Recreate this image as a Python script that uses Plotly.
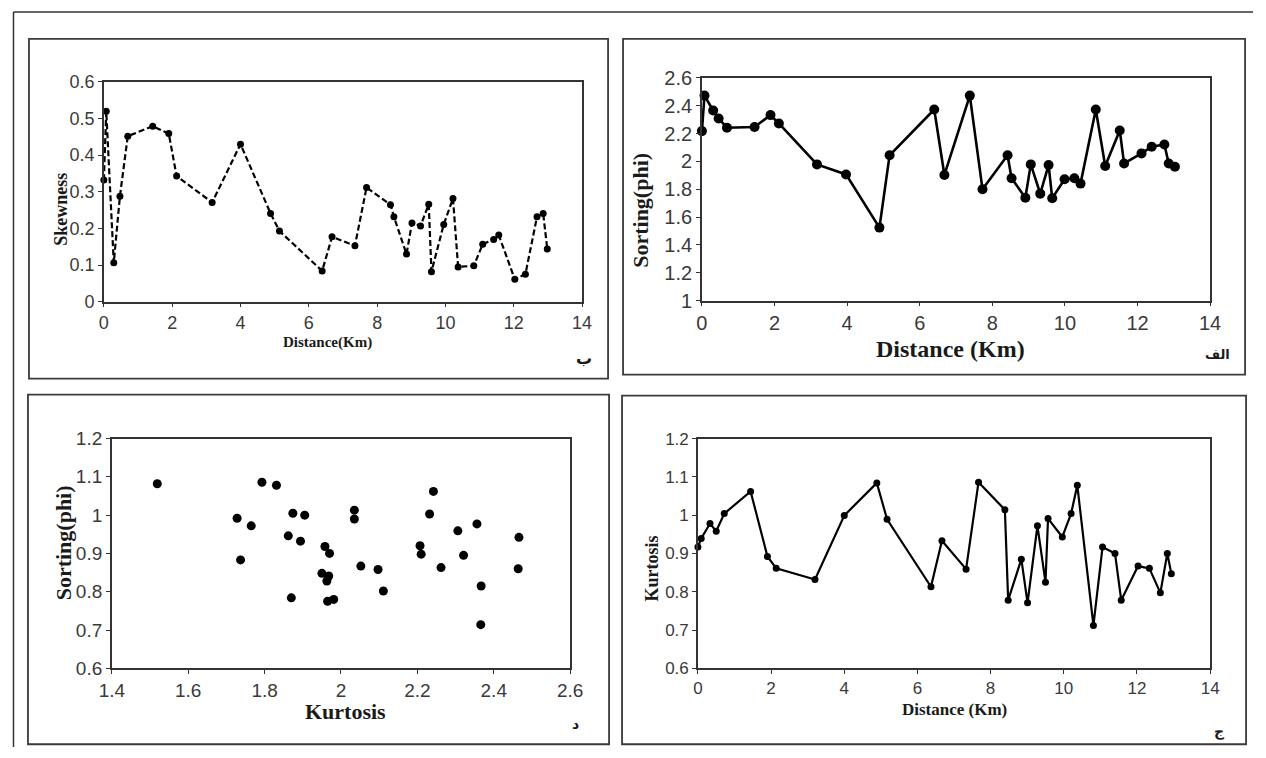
import plotly.graph_objects as go

W, H = 1266, 758

# ---------------- data ----------------
# Panel "ب": Skewness vs distance
dist_skew = [0.0, 0.07, 0.29, 0.47, 0.70, 1.43, 1.90, 2.13, 3.17, 4.00, 4.88, 5.14,
             6.39, 6.68, 7.35, 7.69, 8.39, 8.49, 8.86, 9.02, 9.27, 9.51, 9.59, 9.95,
             10.22, 10.37, 10.83, 11.09, 11.41, 11.56, 12.03, 12.34, 12.68, 12.86, 12.98]
skewness = [0.332, 0.52, 0.106, 0.288, 0.452, 0.479, 0.459, 0.343, 0.271, 0.430, 0.241, 0.193,
            0.084, 0.177, 0.153, 0.312, 0.265, 0.232, 0.130, 0.215, 0.207, 0.266, 0.082, 0.211,
            0.282, 0.095, 0.098, 0.157, 0.170, 0.182, 0.061, 0.075, 0.232, 0.241, 0.144]

# Panel "الف": Sorting vs distance
dist_sort = [0.0, 0.07, 0.31, 0.46, 0.69, 1.45, 1.89, 2.12, 3.17, 3.97, 4.89, 5.17,
             6.40, 6.68, 7.38, 7.73, 8.42, 8.53, 8.91, 9.06, 9.32, 9.55, 9.65, 9.99,
             10.26, 10.43, 10.85, 11.11, 11.51, 11.63, 12.11, 12.39, 12.74, 12.86, 13.03]
sorting = [2.218, 2.473, 2.366, 2.309, 2.242, 2.247, 2.333, 2.273, 1.979, 1.907, 1.525, 2.044,
           2.373, 1.903, 2.473, 1.800, 2.044, 1.879, 1.740, 1.979, 1.769, 1.974, 1.736, 1.872,
           1.879, 1.841, 2.373, 1.967, 2.223, 1.986, 2.058, 2.106, 2.122, 1.986, 1.962]

# Panel "ج": Kurtosis vs distance
dist_kurt = [0.0, 0.09, 0.33, 0.50, 0.72, 1.44, 1.90, 2.14, 3.20, 4.00, 4.89, 5.17,
             6.37, 6.67, 7.33, 7.67, 8.39, 8.48, 8.84, 9.01, 9.28, 9.50, 9.57, 9.96,
             10.20, 10.37, 10.81, 11.06, 11.40, 11.57, 12.03, 12.34, 12.64, 12.83, 12.94]
kurtosis = [0.917, 0.939, 0.978, 0.958, 1.004, 1.062, 0.892, 0.861, 0.832, 0.999, 1.084, 0.989,
            0.813, 0.933, 0.859, 1.086, 1.014, 0.778, 0.885, 0.771, 0.972, 0.825, 0.991, 0.943,
            1.004, 1.078, 0.712, 0.917, 0.900, 0.778, 0.867, 0.861, 0.797, 0.900, 0.847]

# Panel "د": scatter (x labelled Kurtosis, y labelled Sorting(phi))
scatter_x = [1.519, 1.728, 1.737, 1.765, 1.793, 1.831, 1.862, 1.870, 1.874, 1.894, 1.905,
             1.950, 1.958, 1.963, 1.968, 1.970, 1.965, 1.981, 2.035, 2.035, 2.052, 2.097,
             2.111, 2.207, 2.210, 2.232, 2.242, 2.262, 2.306, 2.321, 2.356, 2.367, 2.366,
             2.466, 2.464]
scatter_y = [1.082, 0.992, 0.883, 0.972, 1.086, 1.078, 0.946, 0.784, 1.005, 0.932, 1.000,
             0.848, 0.918, 0.828, 0.841, 0.900, 0.775, 0.780, 1.013, 0.990, 0.867, 0.858,
             0.802, 0.920, 0.898, 1.003, 1.062, 0.863, 0.959, 0.895, 0.977, 0.815, 0.714,
             0.942, 0.860]

# tick labels
dist_ticks = [0, 2, 4, 6, 8, 10, 12, 14]
dist_tick_text = ["0", "2", "4", "6", "8", "10", "12", "14"]
skew_ticks = [0, 0.1, 0.2, 0.3, 0.4, 0.5, 0.6]
skew_tick_text = ["0", "0.1", "0.2", "0.3", "0.4", "0.5", "0.6"]
sort_ticks = [1, 1.2, 1.4, 1.6, 1.8, 2, 2.2, 2.4, 2.6]
sort_tick_text = ["1", "1.2", "1.4", "1.6", "1.8", "2", "2.2", "2.4", "2.6"]
kurt_ticks = [0.6, 0.7, 0.8, 0.9, 1.0, 1.1, 1.2]
kurt_tick_text = ["0.6", "0.7", "0.8", "0.9", "1", "1.1", "1.2"]
scat_x_ticks = [1.4, 1.6, 1.8, 2.0, 2.2, 2.4, 2.6]
scat_x_tick_text = ["1.4", "1.6", "1.8", "2", "2.2", "2.4", "2.6"]

# ---------------- layout helpers (pixel positions -> paper) ----------------
# the photographed page shows a small border; positions below are given in
# the reference's pixel frame and mapped into the figure's own frame.
SX, BX = 0.981, 12.0
SY, BY = 0.972, 10.0

def fx(r):
    return min(W, max(0.5, (r - BX) / SX))

def fy(r):
    return min(H, max(0.5, (r - BY) / SY))

def xd(a, b):
    return [fx(a) / W, fx(b) / W]

def yd(top, bottom):
    return [1 - fy(bottom) / H, 1 - fy(top) / H]

def px(x):
    return fx(x) / W

def py(y):
    return 1 - fy(y) / H

AX = "#333333"
TICKC = "#3a3a3a"
SANS = "Liberation Sans, Arial, sans-serif"
SERIF = "Liberation Serif, Times New Roman, serif"

def axis_style(size):
    return dict(showline=True, linecolor=AX, linewidth=1.5, mirror=True,
                ticks="outside", ticklen=4, tickcolor=AX, tickwidth=1.2,
                showgrid=False, zeroline=False,
                tickfont=dict(family=SANS, size=size, color=TICKC))

fig = go.Figure()

fig.add_trace(go.Scatter(x=dist_skew, y=skewness, mode="lines+markers",
                         line=dict(color="black", width=2.2, dash="6px,3px"),
                         marker=dict(color="black", size=7),
                         xaxis="x", yaxis="y", cliponaxis=False, showlegend=False))
fig.add_trace(go.Scatter(x=dist_sort, y=sorting, mode="lines+markers",
                         line=dict(color="black", width=2.6),
                         marker=dict(color="black", size=10),
                         xaxis="x2", yaxis="y2", cliponaxis=False, showlegend=False))
fig.add_trace(go.Scatter(x=scatter_x, y=scatter_y, mode="markers",
                         marker=dict(color="black", size=9),
                         xaxis="x3", yaxis="y3", cliponaxis=False, showlegend=False))
fig.add_trace(go.Scatter(x=dist_kurt, y=kurtosis, mode="lines+markers",
                         line=dict(color="black", width=2.2),
                         marker=dict(color="black", size=7),
                         xaxis="x4", yaxis="y4", cliponaxis=False, showlegend=False))

fig.update_layout(
    width=W, height=H, margin=dict(l=0, r=0, t=0, b=0),
    paper_bgcolor="white", plot_bgcolor="white",
    xaxis=dict(domain=xd(103, 582), range=[0, 14], anchor="y",
               tickvals=dist_ticks, ticktext=dist_tick_text, **axis_style(18)),
    yaxis=dict(domain=yd(81, 301), range=[0, 0.6], anchor="x",
               tickvals=skew_ticks, ticktext=skew_tick_text, **axis_style(18)),
    xaxis2=dict(domain=xd(702, 1211), range=[0, 14], anchor="y2",
                tickvals=dist_ticks, ticktext=dist_tick_text, **axis_style(20)),
    yaxis2=dict(domain=yd(77, 300), range=[1, 2.6], anchor="x2",
                tickvals=sort_ticks, ticktext=sort_tick_text, **axis_style(20)),
    xaxis3=dict(domain=xd(111, 570), range=[1.4, 2.6], anchor="y3",
                tickvals=scat_x_ticks, ticktext=scat_x_tick_text, **axis_style(19)),
    yaxis3=dict(domain=yd(438, 668), range=[0.6, 1.2], anchor="x3",
                tickvals=kurt_ticks, ticktext=kurt_tick_text, **axis_style(19)),
    xaxis4=dict(domain=xd(698, 1211), range=[0, 14], anchor="y4",
                tickvals=dist_ticks, ticktext=dist_tick_text, **axis_style(17)),
    yaxis4=dict(domain=yd(438, 668), range=[0.6, 1.2], anchor="x4",
                tickvals=kurt_ticks, ticktext=kurt_tick_text, **axis_style(17)),
)

# frames
shapes = []
for (x0, y0, x1, y1) in [(28, 38, 608, 378), (623, 38, 1246, 374),
                         (27, 394, 609, 744), (622, 395, 1247, 744)]:
    shapes.append(dict(type="rect", xref="paper", yref="paper",
                       x0=px(x0), x1=px(x1), y0=py(y1), y1=py(y0),
                       line=dict(color="#3a3a3a", width=1.8), fillcolor="rgba(0,0,0,0)",
                       layer="below"))
shapes.append(dict(type="line", xref="paper", yref="paper",
                   x0=px(7), x1=1, y0=py(11), y1=py(11),
                   line=dict(color="#333333", width=1.5)))
shapes.append(dict(type="line", xref="paper", yref="paper",
                   x0=px(7), x1=px(7), y0=py(11), y1=0,
                   line=dict(color="#333333", width=1.5)))
fig.update_layout(shapes=shapes)

# labels
def label(text, x, y, size, angle=0, family=SERIF):
    fig.add_annotation(text=text, x=px(x), y=py(y), xref="paper", yref="paper",
                       showarrow=False, textangle=angle, xanchor="center", yanchor="middle",
                       font=dict(family=family, size=size, color="#1a1a1a"))

label("<b>Skewness</b>", 60, 208, 18, -90)
label("<b>Distance(Km)</b>", 327, 342, 15)
label("<b>ب</b>", 584, 358, 16, family="DejaVu Sans")

label("<b>Sorting(phi)</b>", 641, 210, 22, -90)
label("<b>Distance (Km)</b>", 951, 348, 24)
label("<b>الف</b>", 1218, 354, 13, family="DejaVu Sans")

label("<b>Sorting(phi)</b>", 63, 542, 22, -90)
label("<b>Kurtosis</b>", 345, 711, 22)
label("<b>د</b>", 575, 724, 14, family="DejaVu Sans")

label("<b>Kurtosis</b>", 652, 568, 18, -90)
label("<b>Distance (Km)</b>", 955, 709, 17)
label("<b>ج</b>", 1220, 731, 14, family="DejaVu Sans")

fig.write_html(
    "out.html",
    config={"displayModeBar": False},
    post_script="document.body.style.margin='0';document.body.style.padding='0';"
                "document.documentElement.style.overflow='hidden';",
)
